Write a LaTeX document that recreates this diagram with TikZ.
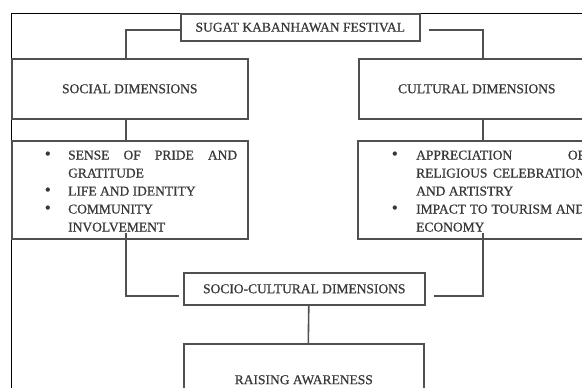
\documentclass[tikz,border=0pt]{standalone}
\usepackage{fontspec}
\setmainfont{Liberation Serif}[UprightFeatures={FakeBold=0.7}]
\usetikzlibrary{calc}
\definecolor{ink}{HTML}{383838}
\definecolor{edge}{HTML}{505050}
\newcommand{\jl}[1]{\hbox to 169pt{#1}}
\newcommand{\bul}{\raisebox{0.3pt}{\fontsize{17}{18}\selectfont\textbullet}}
\begin{document}
\begin{tikzpicture}[x=1pt,y=-1pt,
  box/.style={draw=edge, line width=1.6pt, rectangle, inner sep=0pt, text=ink,
    font=\fontsize{13.5}{18}\selectfont},
  conn/.style={draw=edge, line width=1.6pt},
  listtxt/.style={inner sep=0pt, text=ink, font=\fontsize{13.5}{18}\selectfont}]
\useasboundingbox (0,0) rectangle (582,388);
\clip (0,0) rectangle (582,388);
% frame
\draw[black, line width=1pt] (11,420) -- (11,13) -- (620,13);
% nodes
\node[box, anchor=north west, minimum width=239pt, minimum height=27pt] (top) at (180,13) {SUGAT KABANHAWAN FESTIVAL};
\node[box, anchor=north west, minimum width=236pt, minimum height=60pt] (social) at (11,58) {SOCIAL DIMENSIONS};
\node[box, anchor=north west, minimum width=236pt, minimum height=60pt] (cultural) at (358,58) {CULTURAL DIMENSIONS};
\node[box, anchor=north west, minimum width=236pt, minimum height=98pt] (slist) at (11,140) {};
\node[box, anchor=north west, minimum width=237pt, minimum height=98pt] (clist) at (357,140) {};
\node[box, anchor=north west, minimum width=241pt, minimum height=32pt] (socio) at (183,272) {SOCIO-CULTURAL DIMENSIONS};
\node[box, anchor=north west, minimum width=240pt, minimum height=72pt] (raise) at (183,343) {RAISING AWARENESS};
% list texts
\node[listtxt, anchor=base west] (stxt) at (44.6,159.5) {\renewcommand{\arraystretch}{1}%
\begin{tabular}[t]{@{}p{23.4pt}@{}l@{}}
\bul & \jl{SENSE\hfill OF\hfill PRIDE\hfill AND}\\
 & GRATITUDE\\
\bul & LIFE AND IDENTITY\\
\bul & COMMUNITY\\
 & INVOLVEMENT
\end{tabular}};
\node[listtxt, anchor=base west] (ctxt) at (391.6,159.5) {\renewcommand{\arraystretch}{1}%
\begin{tabular}[t]{@{}p{24.4pt}@{}l@{}}
\bul & \jl{APPRECIATION\hfill OF}\\
 & \jl{RELIGIOUS\hfill CELEBRATION}\\
 & AND ARTISTRY\\
\bul & \jl{IMPACT TO TOURISM AND}\\
 & ECONOMY
\end{tabular}};
% connectors
\coordinate (tl) at ([yshift=-2.5pt]top.west);
\coordinate (tr) at ([xshift=8pt,yshift=-2.5pt]top.east);
\draw[conn] (tl) -| ([xshift=-4pt]social.north);
\draw[conn] (tr) -| ([xshift=6pt]cultural.north);
\draw[conn] ([xshift=-4pt]social.south) -- ([xshift=-4pt]slist.north);
\draw[conn] ([xshift=6pt]cultural.south) -- ([xshift=6.5pt]clist.north);
\coordinate (bl) at ([xshift=-4pt,yshift=7pt]slist.south);
\coordinate (br) at ([xshift=6.5pt,yshift=7pt]clist.south);
\draw[conn] (bl) |- ([xshift=-4pt,yshift=-7pt]socio.west);
\draw[conn] (br) |- ([xshift=8pt,yshift=-7pt]socio.east);
\draw[conn] ([xshift=4.5pt]socio.south) -- ([xshift=4.5pt]raise.north);
\end{tikzpicture}
\end{document}
